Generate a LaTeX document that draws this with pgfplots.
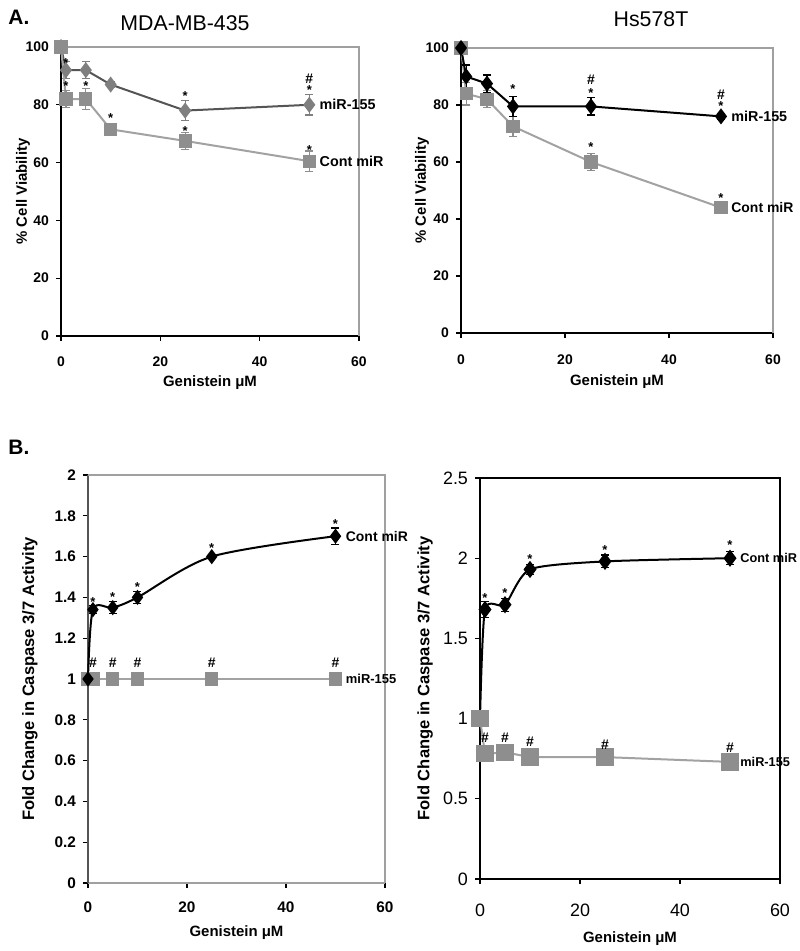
\documentclass[border=0pt]{standalone}
\usepackage{pgfplots}
\pgfplotsset{compat=1.18}
\usepackage{fontspec}
\setmainfont{Liberation Sans}
\definecolor{darkg}{HTML}{7F7F7F}
\definecolor{darkgline}{HTML}{555555}
\definecolor{lightg}{HTML}{8E8E8E}
\definecolor{lightgline}{HTML}{A2A2A2}
\definecolor{frameg}{HTML}{A0A0A0}
\newcommand{\tf}{\fontsize{7}{8}\selectfont\bfseries}
\begin{document}
\begin{tikzpicture}
\useasboundingbox (0,0) rectangle (400bp,475.5bp);
\pgfplotsset{
  panel/.style={
    scale only axis, anchor=south west,
    xmin=0, xmax=60, xtick={0,20,40,60},
    axis x line*=bottom, axis y line*=left,
    axis line style={-, black, line width=1bp},
    tick align=outside, major tick length=2.5bp,
    tick style={black, line width=0.6bp},
    /pgf/number format/assume math mode=true,
    tick label style={font=\tf},
    label style={font=\fontsize{7.5}{8}\selectfont\bfseries},
    xlabel={Genistein μM},
    clip=false,
  },
  ylab/.style={ylabel style={at={(axis description cs:#1,0.5)}, anchor=center}},
  xlab/.style={xlabel style={at={(axis description cs:0.5,#1)}, anchor=center}},
  ebar/.style={error bars/.cd, y dir=both, y explicit,
    error bar style={#1, line width=0.6bp, solid},
    error mark options={#1, rotate=90, mark size=2bp, line width=0.6bp}},
  ast/.style={draw=none, mark=none, nodes near coords={*}, nodes near coords align={center},
    every node near coord/.append style={font=\fontsize{6.5}{6}\selectfont\bfseries, inner sep=0pt, text=#1}},
  hash/.style={draw=none, mark=none, nodes near coords={\#}, nodes near coords align={center},
    every node near coord/.append style={font=\fontsize{7}{7}\selectfont\bfseries, inner sep=0pt, text=#1}},
  serl/.style 2 args={draw=none, mark=none, nodes near coords={#1}, nodes near coords align={west},
    every node near coord/.append style={font=\fontsize{#2}{8}\selectfont\bfseries, inner sep=0pt, xshift=5bp, text=black}},
}
% headings
\node[anchor=west, inner sep=0pt, font=\fontsize{10.5}{11}\selectfont\bfseries] at (4bp,467bp) {A.};
\node[font=\fontsize{10.7}{11}\selectfont] at (92.5bp,464bp) {MDA-MB-435};
\node[font=\fontsize{10.7}{11}\selectfont] at (325.5bp,466bp) {Hs578T};
\node[anchor=west, inner sep=0pt, font=\fontsize{10.5}{11}\selectfont\bfseries] at (4bp,252bp) {B.};

% ---------- top-left ----------
\begin{axis}[panel, at={(30.5bp,307.5bp)}, width=149bp, height=144.5bp,
  ymin=0, ymax=100, ytick={0,20,...,100}, ylabel={\% Cell Viability},
  ylab=-0.1275, xlab=-0.1626, xticklabel style={yshift=-4.5bp}]
\draw[frameg, line width=0.6bp] (rel axis cs:0,1) -- (rel axis cs:1,1) -- (rel axis cs:1,0);
\addplot[darkgline, line width=1bp, mark=diamond*, mark size=3.2bp, mark options={darkg, solid}, ebar=darkg] table[y error=e] {
x y e
0 100 0
1 92 3
5 92 3
10 87 1
25 78 3.5
50 80 3.5
};
\addplot[lightgline, line width=1bp, mark=square*, mark size=2.8bp, mark options={lightg, solid}, ebar=lightg] table[y error=e] {
x y e
0 100 0
1 82 3
5 82 3.5
10 71.5 1
25 67.5 3
50 60.5 3.5
};
\addplot[serl={miR-155}{7.2}] table {
x y
50 80
};
\addplot[serl={Cont miR}{7.2}] table {
x y
50 60.5
};
\addplot[ast=black] table {
x y
1 94.5
25 83
50 85
1 86.5
5 86.5
10 75.5
25 71
50 64.5
};
\addplot[hash=black] table {
x y
50 89
};
\end{axis}

% ---------- top-right ----------
\begin{axis}[panel, at={(230.5bp,309bp)}, width=156bp, height=142.5bp,
  ymin=0, ymax=100, ytick={0,20,...,100}, ylabel={\% Cell Viability},
  ylab=-0.125, xlab=-0.172, xticklabel style={yshift=-5bp}]
\draw[frameg, line width=0.6bp] (rel axis cs:0,1) -- (rel axis cs:1,1) -- (rel axis cs:1,0);
\addplot[lightgline, line width=1bp, mark=square*, mark size=2.8bp, mark options={lightg, solid}, ebar=lightg] table[y error=e] {
x y e
0 100 0
1 84 4
5 82 3
10 72.5 3.5
25 60 3
50 44 1
};
\addplot[black, line width=1bp, mark=diamond*, mark size=3.2bp, mark options={black, solid}, ebar=black] table[y error=e] {
x y e
0 100 0
1 90 4
5 87.5 3
10 79.5 3.5
25 79.5 3
50 76 1
};
\addplot[serl={miR-155}{7.2}] table {
x y
50 76
};
\addplot[serl={Cont miR}{7}] table {
x y
50 44
};
\addplot[ast=black] table {
x y
10 85.6
25 84.3
50 79.6
25 65.3
50 47.4
};
\addplot[hash=black] table {
x y
25 88.8
50 83.5
};
\end{axis}

% ---------- bottom-left ----------
\begin{axis}[panel, at={(44bp,34bp)}, width=148.5bp, height=204bp,
  ymin=0, ymax=2, ytick={0,0.2,...,2.01},
  x axis line style={frameg}, y axis line style={darkgline},
  tick label style={font=\fontsize{7.7}{8}\selectfont\bfseries},
  ylabel={Fold Change in Caspase 3/7 Activity},
  ylabel style={font=\fontsize{8.3}{9}\selectfont\bfseries},
  xlabel style={font=\fontsize{7.5}{8}\selectfont\bfseries},
  ylab=-0.1953, xlab=-0.1225, xticklabel style={yshift=-3.5bp}]
\draw[frameg, line width=0.8bp] (rel axis cs:0,1) -- (rel axis cs:1,1) -- (rel axis cs:1,0);
\addplot[lightgline, line width=1bp, mark=square*, mark size=2.8bp, mark options={lightg, solid}, ebar=lightg] table[y error=e] {
x y e
0 1 0
1 1 0
5 1 0
10 1 0.03
25 1 0
50 1 0
};
\addplot[black, line width=1bp, smooth, tension=0.5, mark=diamond*, mark size=3bp, mark options={black, solid}, ebar=black] table[y error=e] {
x y e
0 1.0 0
1 1.34 0.02
5 1.35 0.03
10 1.40 0.03
25 1.60 0.01
50 1.70 0.04
};
\addplot[serl={miR-155}{6.5}] table {
x y
50 1
};
\addplot[serl={Cont miR}{7}] table {
x y
50 1.70
};
\addplot[ast=black] table {
x y
1 1.377
5 1.40
10 1.45
25 1.64
50 1.76
};
\addplot[hash=black] table {
x y
1 1.078
5 1.078
10 1.078
25 1.078
50 1.078
};
\end{axis}

% ---------- bottom-right ----------
\begin{axis}[panel, at={(240bp,36bp)}, width=150bp, height=200.5bp,
  ymin=0, ymax=2.5, ytick={0,0.5,...,2.5},
  tick label style={font=\fontsize{9}{10}\selectfont},
  ylabel={Fold Change in Caspase 3/7 Activity},
  ylabel style={font=\fontsize{8.3}{9}\selectfont\bfseries},
  xlabel style={font=\fontsize{7.5}{8}\selectfont\bfseries},
  ylab=-0.1833, xlab=-0.1496, xticklabel style={yshift=-6.5bp}]
\draw[black, line width=0.9bp] (rel axis cs:0,1) -- (rel axis cs:1,1) -- (rel axis cs:1,0);
\addplot[black, line width=1bp, smooth, tension=0.4, mark=diamond*, mark size=3.5bp, mark options={black, solid}, ebar=black] table[y error=e] {
x y e
0 1.0 0
1 1.68 0.05
5 1.71 0.04
10 1.93 0.03
25 1.98 0.04
50 2.0 0.04
};
\addplot[lightgline, line width=1bp, mark=square*, mark size=3.8bp, mark options={lightg, solid}, ebar=lightg] table[y error=e] {
x y e
0 1.0 0
1 0.78 0.02
5 0.79 0.01
10 0.76 0.02
25 0.76 0.01
50 0.73 0.01
};
\addplot[serl={Cont miR}{6.4}] table {
x y
50 2.0
};
\addplot[serl={miR-155}{6.4}] table {
x y
50 0.73
};
\addplot[ast=black] table {
x y
1 1.75
5 1.78
10 1.995
25 2.05
50 2.08
};
\addplot[hash=black] table {
x y
1 0.88
5 0.88
10 0.855
25 0.84
50 0.82
};
\end{axis}
\end{tikzpicture}
\end{document}
